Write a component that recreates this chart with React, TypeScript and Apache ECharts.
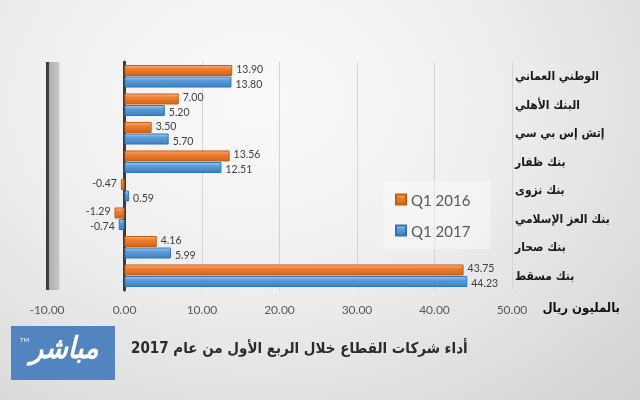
import React, { useEffect, useRef } from "react";
import * as echarts from "echarts";

const categories = [
  "الوطني العماني",
  "البنك الأهلي",
  "إتش إس بي سي",
  "بنك ظفار",
  "بنك نزوى",
  "بنك العز الإسلامي",
  "بنك صحار",
  "بنك مسقط",
];
const q1_2016 = [13.9, 7.0, 3.5, 13.56, -0.47, -1.29, 4.16, 43.75];
const q1_2017 = [13.8, 5.2, 5.7, 12.51, 0.59, -0.74, 5.99, 44.23];
const seriesNames = ["Q1 2016", "Q1 2017"];
const xMin = -10;
const xMax = 50;
const xStep = 10;
const unitLabel = "بالمليون ريال";
const titleText = "أداء شركات القطاع خلال الربع الأول من عام 2017";
const logoText = "مباشر";

const ARABIC_FONT = "'DejaVu Sans Condensed', 'DejaVu Sans'";
const NUM_FONT = "Lato";

function grad(c0: string, c1: string, c2: string) {
  return new echarts.graphic.LinearGradient(0, 0, 0, 1, [
    { offset: 0, color: c0 },
    { offset: 0.35, color: c1 },
    { offset: 1, color: c2 },
  ]);
}

function makeSeries(
  name: string,
  values: number[],
  fill: any,
  border: string,
  dy: number,
  extra: any = {}
) {
  return {
    name,
    type: "bar",
    yAxisIndex: 0,
    barWidth: 11,
    barGap: "5%",
    data: values.map((v) => ({
      value: v,
      label: { position: v < 0 ? "left" : "right" },
    })),
    itemStyle: { color: fill, borderColor: border, borderWidth: 1 },
    label: {
      show: true,
      formatter: (p: any) => Number(p.value).toFixed(2),
      fontFamily: NUM_FONT,
      fontSize: 10.5,
      color: "#404040",
      distance: 4,
      offset: [0, dy],
    },
    ...extra,
  };
}

export default function App() {
  const ref = useRef<HTMLDivElement>(null);
  useEffect(() => {
    if (!ref.current) return;
    const chart = echarts.init(ref.current, undefined, { renderer: "svg" });
    const option: any = {
      animation: false,
      backgroundColor: "transparent",
      grid: { left: 47, right: 128, top: 62, bottom: 110, containLabel: false },
      legend: {
        data: seriesNames,
        orient: "vertical",
        left: 383,
        top: 181,
        itemWidth: 10,
        itemHeight: 10,
        itemGap: 16,
        icon: "rect",
        padding: [11, 20, 11, 12],
        backgroundColor: "rgba(255,255,255,0.35)",
        textStyle: { fontFamily: NUM_FONT, fontSize: 15, color: "#595959" },
      },
      xAxis: {
        type: "value",
        min: xMin,
        max: xMax,
        interval: xStep,
        axisLine: { show: false },
        axisTick: { show: false },
        axisLabel: {
          formatter: (v: number) => v.toFixed(2),
          fontFamily: NUM_FONT,
          fontSize: 12,
          color: "#595959",
          margin: 13,
        },
        splitLine: {
          show: true,
          lineStyle: { color: "#d4d4d4", width: 1 },
        },
      },
      yAxis: [
        {
          type: "category",
          data: categories,
          inverse: true,
          axisLine: { show: true, onZero: true, lineStyle: { color: "#3c3c3c", width: 3 } },
          axisTick: { show: false },
          axisLabel: { show: false },
          splitLine: { show: false },
          z: 1,
        },
        {
          type: "category",
          data: categories,
          inverse: true,
          position: "right",
          axisLine: { show: false, onZero: false },
          axisTick: { show: false },
          axisLabel: {
            show: true,
            align: "left",
            margin: 3,
            fontFamily: ARABIC_FONT,
            fontSize: 12,
            fontWeight: "bold",
            color: "#1a1a1a",
          },
        },
      ],
      series: [
        makeSeries(seriesNames[0], q1_2016, grad("#f6b07c", "#ee7d32", "#d3661c"), "#c55a11", -1.5, {
          markArea: {
            silent: true,
            itemStyle: {
              color: new echarts.graphic.LinearGradient(0, 0, 1, 0, [
                { offset: 0, color: "#a8a8a8" },
                { offset: 1, color: "#c8c8c8" },
              ]),
            },
            data: [[{ xAxis: -10 }, { xAxis: -8.4 }]],
          },
          markLine: {
            silent: true,
            symbol: "none",
            label: { show: false },
            lineStyle: { color: "#3c3c3c", width: 3, type: "solid" },
            data: [{ xAxis: -10 }],
          },
        }),
        makeSeries(seriesNames[1], q1_2017, grad("#a5c9ea", "#5b9bd5", "#3f82c4"), "#2e75b6", 1.5),
      ],
      graphic: [
        {
          type: "text",
          right: 20,
          top: 301,
          style: {
            text: unitLabel,
            fontFamily: ARABIC_FONT,
            fontSize: 13,
            fontWeight: "bold",
            fill: "#111",
          },
        },
        {
          type: "rect",
          left: 11,
          top: 326,
          shape: { width: 104, height: 54 },
          style: { fill: "#5285c0" },
        },
        {
          type: "text",
          left: 30,
          top: 332,
          style: {
            text: logoText,
            fontFamily: ARABIC_FONT,
            fontSize: 30,
            fontWeight: "bold",
            fontStyle: "italic",
            fill: "#ffffff",
          },
        },
        {
          type: "text",
          left: 20,
          top: 336,
          style: { text: "TM", fontFamily: NUM_FONT, fontSize: 6, fill: "#ffffff" },
        },
        {
          type: "text",
          left: 131,
          top: 340,
          style: {
            text: titleText,
            fontFamily: ARABIC_FONT,
            fontSize: 15,
            fontWeight: "bold",
            fill: "#2b2b2b",
          },
        },
      ],
    };
    chart.setOption(option);
    return () => chart.dispose();
  }, []);
  return (
    <div
      style={{
        position: "fixed",
        left: 0,
        top: 0,
        width: 640,
        height: 400,
        background:
          "radial-gradient(ellipse at 40% 25%, #fafafa 0%, #eeeeee 45%, #d2d2d2 100%)",
      }}
    >
      <div ref={ref} style={{ width: 640, height: 400 }} />
    </div>
  );
}
